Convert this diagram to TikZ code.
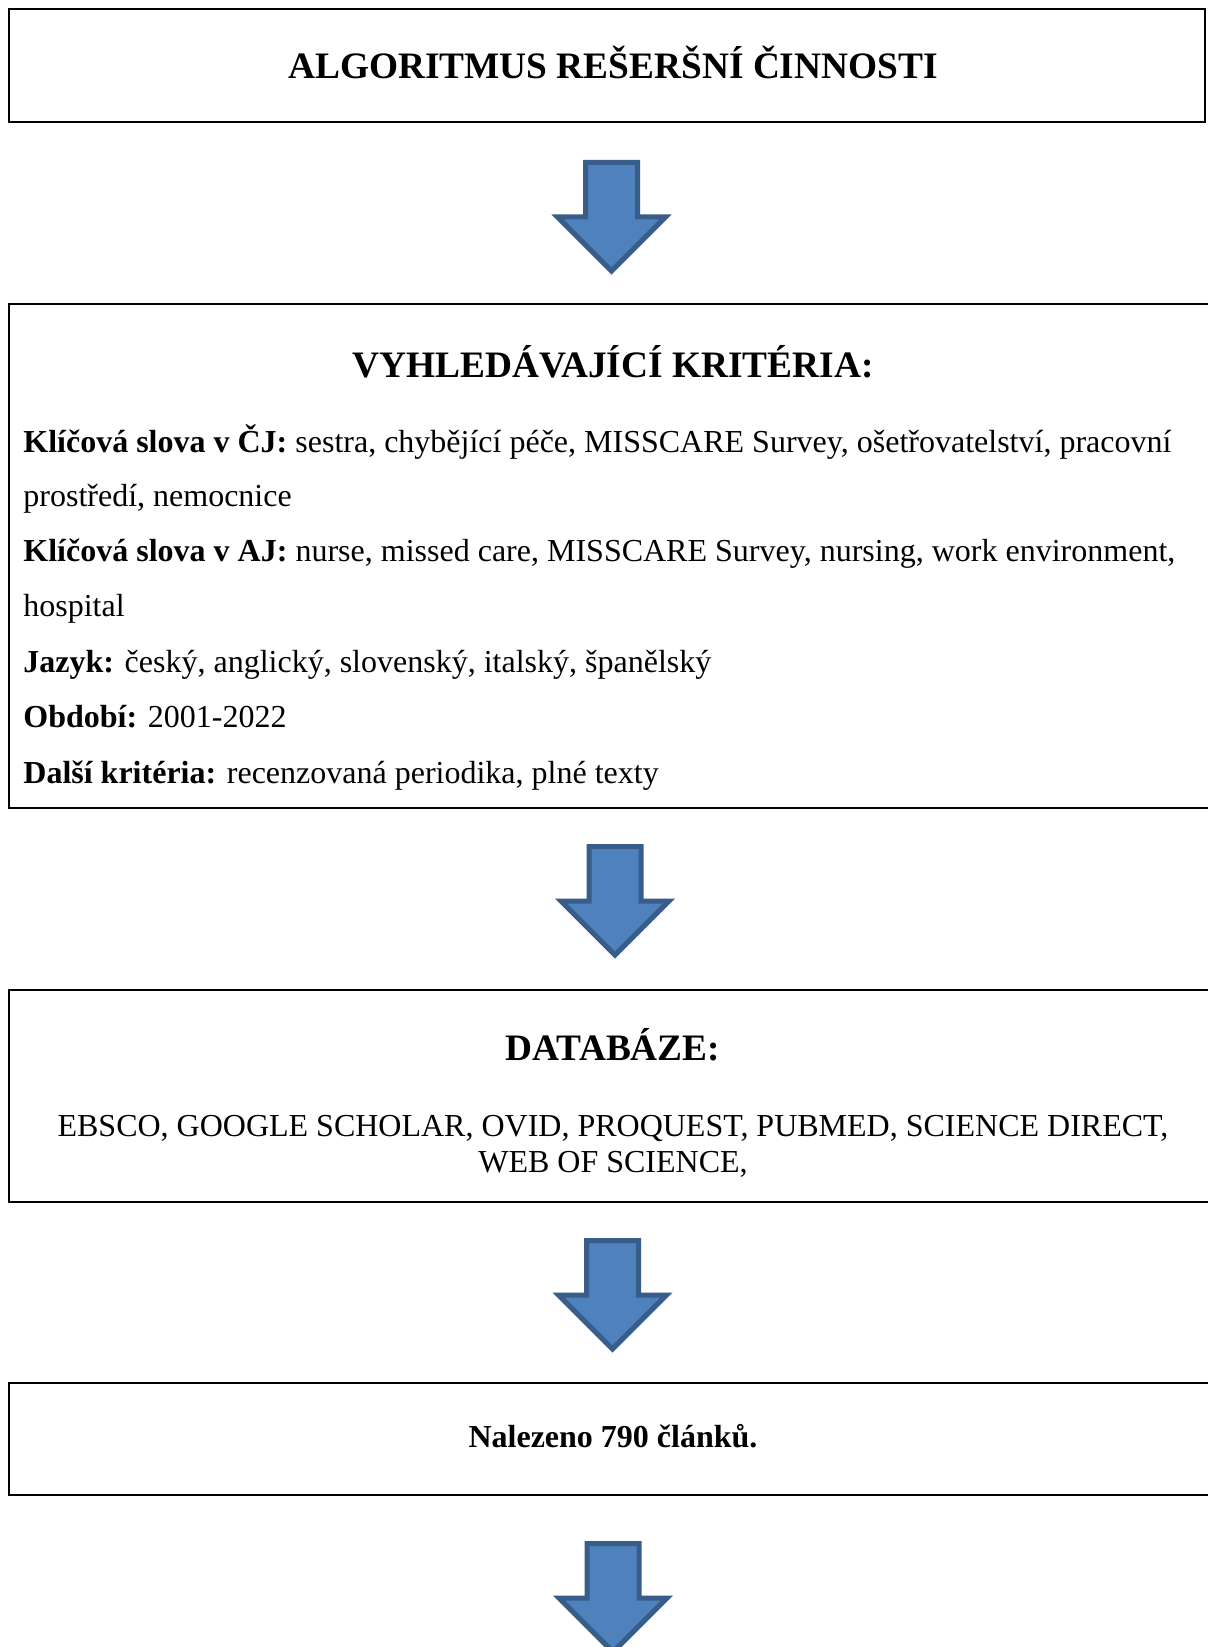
\documentclass[tikz,border=0pt]{standalone}
\usepackage{fontspec}
\setmainfont{Liberation Serif}
\definecolor{arrfill}{HTML}{4F81BD}
\definecolor{arrline}{HTML}{385D8A}
\begin{document}
\begin{tikzpicture}[x=0.5pt,y=-0.5pt,
  frame/.style={draw=black,line width=1.35pt},
  blockarrow/.style={fill=arrfill,draw=arrline,line width=2.5pt,line join=miter},
  bigtitle/.style={font=\fontsize{18.67}{22}\selectfont\bfseries,anchor=base,inner sep=0pt},
  bodyline/.style={font=\fontsize{16}{18}\selectfont,anchor=base west,inner sep=0pt},
  centerline/.style={font=\fontsize{16}{18}\selectfont,anchor=base,inner sep=0pt}]
\useasboundingbox (0,0) rectangle (1208,1647);
\clip (0,0) rectangle (1208,1647);
\fill[white] (0,0) rectangle (1208,1647);
% boxes
\draw[frame] (9,9) rectangle (1205,122);
\draw[frame] (9,304) rectangle (1230,808);
\draw[frame] (9,990) rectangle (1230,1202);
\draw[frame] (9,1383) rectangle (1230,1495);
% texts
\node[bigtitle] (t1) at (613,79) {ALGORITMUS REŠERŠNÍ ČINNOSTI};
\node[bigtitle] (t2) at (613,377) {VYHLEDÁVAJÍCÍ KRITÉRIA:};
\node[bodyline] (l1) at (23,452) {\hbox to 574pt{\textbf{Klíčová slova v ČJ:} sestra, chybějící péče, MISSCARE Survey, ošetřovatelství, pracovní}};
\node[bodyline] (l2) at (23,506) {prostředí, nemocnice};
\node[bodyline] (l3) at (23,561) {\hbox to 576pt{\textbf{Klíčová slova v AJ:} nurse, missed care, MISSCARE Survey, nursing, work environment,}};
\node[bodyline] (l4) at (23,616) {hospital};
\node[bodyline] (l5) at (23,672) {\textbf{Jazyk:} český, anglický, slovenský, italský, španělský};
\node[bodyline] (l6) at (23,727) {\textbf{Období:} 2001-2022};
\node[bodyline] (l7) at (23,783) {\textbf{Další kritéria:} recenzovaná periodika, plné texty};
\node[bigtitle] (t3) at (613,1060) {DATABÁZE:};
\node[centerline] (d1) at (613,1136) {EBSCO, GOOGLE SCHOLAR, OVID, PROQUEST, PUBMED, SCIENCE DIRECT,};
\node[centerline] (d2) at (613,1172) {WEB OF SCIENCE,};
\node[centerline,font=\fontsize{16}{18}\selectfont\bfseries] (n1) at (613,1447) {Nalezeno 790 článků.};
% block arrows
\coordinate (a1) at (611.5,160);
\coordinate (a2) at (615,844);
\coordinate (a3) at (612.5,1238);
\coordinate (a4) at (613,1541);
\foreach \a in {a1,a2,a3,a4}{
  \draw[blockarrow] (\a) ++(-26,2.5) -- ++(52,0) -- ++(0,54.5) -- ++(28,0) -- ++(-54,54) -- ++(-54,-54) -- ++(28,0) -- cycle;
}
\end{tikzpicture}
\end{document}
